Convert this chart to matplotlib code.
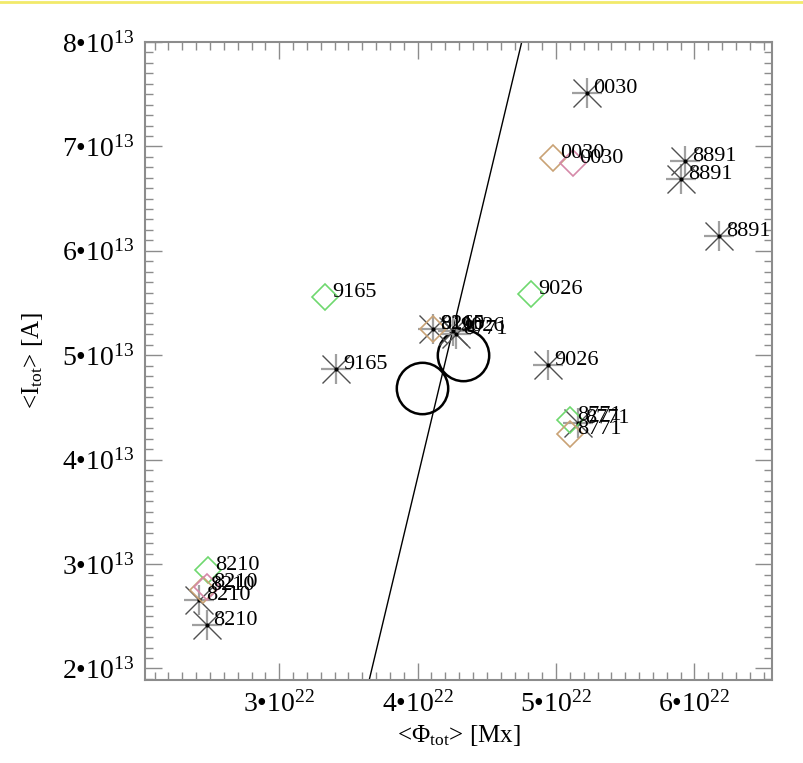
import numpy as np
import matplotlib
matplotlib.use('Agg')
from matplotlib import pyplot as plt
from matplotlib.ticker import MultipleLocator, FuncFormatter

# asterisks (black)
star_phi = [5.22, 5.93, 5.905, 6.18, 3.41, 4.94, 5.16, 2.422, 2.475, 4.11, 4.256, 4.28]
star_cur = [7.51, 6.86, 6.69, 6.14, 4.87, 4.91, 4.35, 2.654, 2.415, 5.25, 5.233, 5.20]
star_lab = ['0030', '8891', '8891', '8891', '9165', '9026', '8771', '8210', '8210', '8210', '9026', '8771']

# diamonds
green_phi = [3.33, 4.82, 5.10, 2.487]
green_cur = [5.56, 5.59, 4.38, 2.94]
green_lab = ['9165', '9026', '8771', '8210']

orange_phi = [4.98, 5.10, 2.451, 4.11]
orange_cur = [6.89, 4.25, 2.75, 5.25]
orange_lab = ['0030', '8771', '8210', '9165']

pink_phi = [5.12, 2.475]
pink_cur = [6.84, 2.78]
pink_lab = ['0030', '8210']

# big open circles
circ_phi = [4.03, 4.33]
circ_cur = [4.69, 5.00]

# fitted line  I = a*Phi + b
fit_a = 5.545e-9
fit_b = -1.835e14

PHI = 1e22
CUR = 1e13
xlim = (2.03e22, 6.56e22)
ylim = (1.89e13, 8.0e13)

plt.rcParams['font.family'] = ['Liberation Serif', 'DejaVu Serif']
plt.rcParams['mathtext.fontset'] = 'custom'
plt.rcParams['mathtext.rm'] = 'Liberation Serif'
plt.rcParams['mathtext.it'] = 'Liberation Serif:italic'
plt.rcParams['mathtext.bf'] = 'Liberation Serif:bold'


def sci(v, exp, scale):
    return r'$\mathrm{%d•10^{%d}}$' % (round(v / scale), exp)


def label_pts(ax, xs, ys, labs):
    for x, y, s in zip(xs, ys, labs):
        ax.annotate(s, (x, y), xytext=(5, 0), textcoords='offset points',
                    fontsize=16, va='baseline', ha='left', color='black', zorder=6)


def main():
    fig = plt.figure(figsize=(8.04, 7.63), dpi=100)
    ax = fig.add_axes([0.1803, 0.1088, 0.9602 - 0.1803, 0.945 - 0.1088])

    xs = np.array(xlim)
    ax.plot(xs, fit_a * xs + fit_b, color='black', lw=1.0, zorder=2)

    ax.plot([p * PHI for p in circ_phi], [c * CUR for c in circ_cur], 'o', ms=37,
            mfc='none', mec='black', mew=1.8, ls='none', zorder=3)

    sx = [p * PHI for p in star_phi]
    sy = [c * CUR for c in star_cur]
    ax.plot(sx, sy, '+', ms=22, mec='#a0a0a0', mew=1.6, ls='none', zorder=4)
    ax.plot(sx, sy, 'x', ms=20, mec='#505050', mew=1.0, ls='none', zorder=4)
    ax.plot(sx, sy, '.', ms=4, color='black', ls='none', zorder=4)

    for phi, cur, col in [(green_phi, green_cur, '#6fd86f'),
                          (orange_phi, orange_cur, '#c9a275'),
                          (pink_phi, pink_cur, '#d589a8')]:
        ax.plot([p * PHI for p in phi], [c * CUR for c in cur], 'D', ms=13,
                mfc='none', mec=col, mew=1.2, ls='none', zorder=5)

    label_pts(ax, [p * PHI for p in green_phi], [c * CUR for c in green_cur], green_lab)
    label_pts(ax, [p * PHI for p in orange_phi], [c * CUR for c in orange_cur], orange_lab)
    label_pts(ax, [p * PHI for p in pink_phi], [c * CUR for c in pink_cur], pink_lab)
    label_pts(ax, sx, sy, star_lab)

    ax.set_xlim(*xlim)
    ax.set_ylim(*ylim)
    ax.xaxis.set_major_locator(MultipleLocator(1e22))
    ax.xaxis.set_minor_locator(MultipleLocator(0.1e22))
    ax.yaxis.set_major_locator(MultipleLocator(1e13))
    ax.yaxis.set_minor_locator(MultipleLocator(0.1e13))
    ax.xaxis.set_major_formatter(FuncFormatter(lambda v, p: sci(v, 22, PHI)))
    ax.yaxis.set_major_formatter(FuncFormatter(lambda v, p: sci(v, 13, CUR)))
    ax.tick_params(which='both', direction='in', top=True, right=True, color='#8c8c8c', width=1.0)
    ax.tick_params(which='major', length=12, labelsize=20, pad=8)
    ax.tick_params(which='minor', length=6)
    for sp in ax.spines.values():
        sp.set_color('#8c8c8c')
        sp.set_linewidth(1.5)

    ax.set_xlabel(r'<$\Phi_{\mathrm{tot}}$> [Mx]', fontsize=18, labelpad=4)
    ax.set_ylabel(r'<I$_{\mathrm{tot}}$> [A]', fontsize=18, labelpad=12)

    fig.add_artist(plt.Line2D([0, 1], [0.998, 0.998], color='#f2ea6a', lw=2, transform=fig.transFigure))

    fig.savefig('out.png', dpi=100)


if __name__ == "__main__":
    main()
